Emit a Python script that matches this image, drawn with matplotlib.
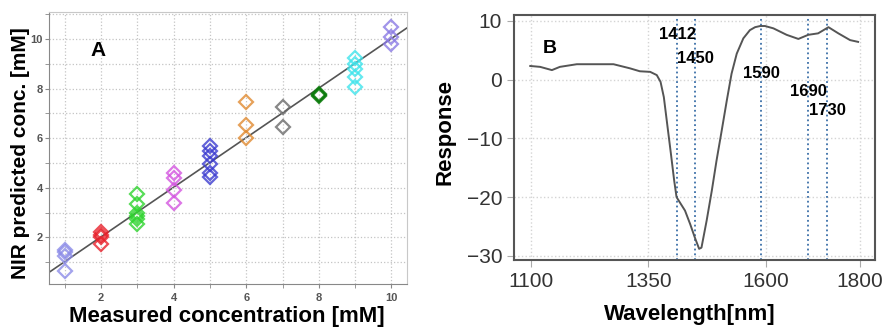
import numpy as np
import matplotlib
matplotlib.use("Agg")
import matplotlib.pyplot as plt

plt.rcParams['font.family'] = ['Liberation Sans', 'DejaVu Sans']

# ---- panel A: measured vs NIR predicted concentration (mM)
measured = [1, 2, 3, 4, 5, 6, 7, 8, 9, 10]
predicted = [
    [1.5, 1.4, 1.25, 0.65],
    [2.2, 2.1, 2.0, 1.75],
    [3.75, 3.35, 3.0, 2.85, 2.75, 2.55],
    [4.6, 4.4, 3.9, 3.4],
    [5.7, 5.5, 5.3, 4.95, 4.6, 4.45],
    [7.45, 6.55, 6.0],
    [7.25, 6.45],
    [7.8, 7.75, 7.7],
    [9.25, 9.0, 8.8, 8.45, 8.05],
    [10.5, 10.1, 9.8],
]
group_colors = ['#8c8ce8', '#e8202a', '#2ed42e', '#d455e0', '#3c3cd0',
                '#e08a30', '#6a6a6a', '#0a7a0a', '#3ee4ec', '#8a7ae4']
fit_slope = 1.0
fit_intercept = 0.02

# ---- panel B: regression coefficient spectrum
wavelength = [1099, 1120, 1145, 1162, 1198, 1276, 1311, 1332, 1354, 1368,
              1376, 1383, 1390, 1398, 1405, 1410, 1417, 1428, 1439, 1449,
              1458, 1463, 1474, 1485, 1495, 1506, 1517, 1527, 1538, 1552,
              1566, 1577, 1588, 1598, 1616, 1644, 1669, 1690, 1711, 1733,
              1754, 1779, 1796]
response = [2.3, 2.15, 1.6, 2.15, 2.6, 2.6, 1.9, 1.4, 1.3, 0.75,
            -0.4, -3.0, -7.5, -12.6, -17.2, -20.0, -20.9, -22.3, -24.6, -26.9,
            -28.8, -28.6, -24.0, -18.9, -13.8, -8.7, -3.5, 1.0, 4.4, 7.0,
            8.4, 8.9, 9.1, 9.1, 8.7, 7.6, 6.9, 7.6, 7.85, 8.9,
            7.85, 6.7, 6.4]
peaks = [1412, 1450, 1590, 1690, 1730]
peak_label_y = [7.6, 3.6, 1.1, -2.0, -5.3]

fig = plt.figure(figsize=(8.82, 3.27), dpi=100)

# ================= A
axA = fig.add_axes([0.0556, 0.1315, 0.4059, 0.8318])
for x, ys, c in zip(measured, predicted, group_colors):
    axA.plot([x] * len(ys), ys, linestyle='none', marker='D', ms=7,
             mfc='none', mec=c, mew=1.6, alpha=0.8)
axA.axline((0, fit_intercept), slope=fit_slope, color='#555555', lw=1.2, zorder=1)
axA.set_xlim(0.57, 10.43)
axA.set_ylim(0.12, 11.09)
axA.set_xticks([2, 4, 6, 8, 10])
axA.set_yticks([2, 4, 6, 8, 10])
axA.set_xticks(range(1, 11), minor=True)
axA.set_yticks(range(1, 12), minor=True)
axA.grid(True, which='both', linestyle=':', color='#c4c4c4', lw=0.9)
axA.tick_params(which='both', length=3, color='#888888', labelsize=8,
                labelcolor='#555555')
axA.tick_params(axis='y', pad=1.5)
for lab in axA.get_xticklabels() + axA.get_yticklabels():
    lab.set_fontweight('bold')
for s in ['left', 'bottom']:
    axA.spines[s].set_color('#888888')
for s in ['top', 'right']:
    axA.spines[s].set_color('#c8c8c8')
axA.text(0.137, 0.86, 'A', transform=axA.transAxes, fontsize=15,
         fontweight='bold', ha='center', va='center')
axA.set_xlabel('Measured concentration [mM]', fontsize=16, fontweight='bold')
axA.set_ylabel('NIR predicted conc. [mM]', fontsize=15, fontweight='bold')
axA.xaxis.set_label_coords(0.496, -0.121)
axA.xaxis.label.set_verticalalignment('center')
axA.yaxis.set_label_coords(-0.08, 0.48)
axA.yaxis.label.set_verticalalignment('center')

# ================= B
axB = fig.add_axes([0.5828, 0.2049, 0.4093, 0.7492])
axB.plot(wavelength, response, color='#555555', lw=1.4, zorder=3)
for p, ly in zip(peaks, peak_label_y):
    axB.axvline(p, color='#3b6fa8', linestyle=':', lw=1.3, zorder=2)
    axB.text(p, ly, str(p), fontsize=12, fontweight='bold', ha='center',
             va='center', zorder=4)
axB.set_xlim(1064.5, 1832)
axB.set_ylim(-30.7, 10.97)
axB.set_xticks([1100, 1350, 1600, 1800])
axB.set_yticks([10, 0, -10, -20, -30])
axB.grid(True, linestyle=':', color='#d4d4d4', lw=1.0)
axB.tick_params(length=5, color='#aaaaaa', labelsize=15, labelcolor='#333333')
for s in axB.spines.values():
    s.set_color('#555555')
    s.set_linewidth(1.5)
axB.text(0.0997, 0.865, 'B', transform=axB.transAxes, fontsize=14,
         fontweight='bold', ha='center', va='center')
axB.set_xlabel('Wavelength[nm]', fontsize=16, fontweight='bold')
axB.set_ylabel('Response', fontsize=16, fontweight='bold')
axB.xaxis.set_label_coords(0.4875, -0.224)
axB.xaxis.label.set_verticalalignment('center')
axB.yaxis.set_label_coords(-0.191, 0.522)
axB.yaxis.label.set_verticalalignment('center')

fig.savefig('out.png', dpi=100)
